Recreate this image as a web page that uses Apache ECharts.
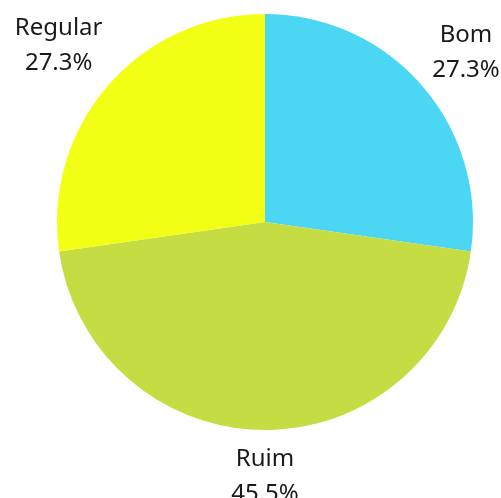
<!DOCTYPE html>
<html>
<head>
<meta charset="utf-8">
<script src="https://cdn.jsdelivr.net/npm/echarts@6/dist/echarts.min.js"></script>
<style>
  html, body { margin: 0; padding: 0; background: #fff; }
  #chart { width: 501px; height: 498px; }
</style>
</head>
<body>
<div id="chart"></div>
<script>
const categories = ['Bom', 'Ruim', 'Regular'];
const counts = [3, 5, 3];
const sliceColors = ['#4bd6f3', '#c5dd43', '#f3ff14'];

const cx = 265;
const cy = 222;
const radius = 208;
// how far each label sits from the centre
const labelDist = [262, 253, 273];

const total = counts.reduce((a, b) => a + b, 0);
const midAngles = [];
let acc = 0;
counts.forEach((v) => {
  midAngles.push(((acc + v / 2) / total) * 2 * Math.PI);
  acc += v;
});

const chart = echarts.init(document.getElementById('chart'));
chart.setOption({
  animation: false,
  backgroundColor: '#ffffff',
  series: [
    {
      type: 'pie',
      center: [cx, cy],
      radius: radius,
      startAngle: 90,
      clockwise: true,
      avoidLabelOverlap: false,
      data: categories.map((name, i) => ({
        name: name,
        value: counts[i],
        itemStyle: { color: sliceColors[i] },
      })),
      label: {
        show: true,
        position: 'outside',
        alignTo: 'none',
        overflow: 'none',
        formatter: (p) => p.name + '\n' + p.percent.toFixed(1) + '%',
        fontFamily: 'Noto Sans',
        fontSize: 24,
        lineHeight: 35,
        color: '#1a1a1a',
        align: 'center',
      },
      labelLine: { show: false },
      labelLayout: (p) => {
        const a = midAngles[p.dataIndex];
        const d = labelDist[p.dataIndex];
        return {
          x: cx + d * Math.sin(a) + (p.dataIndex === 0 ? 3 : 0),
          y: cy - d * Math.cos(a) + 2,
          align: 'center',
          verticalAlign: 'middle',
          width: 200,
        };
      },
      emphasis: { disabled: true },
    },
  ],
});
</script>
</body>
</html>
